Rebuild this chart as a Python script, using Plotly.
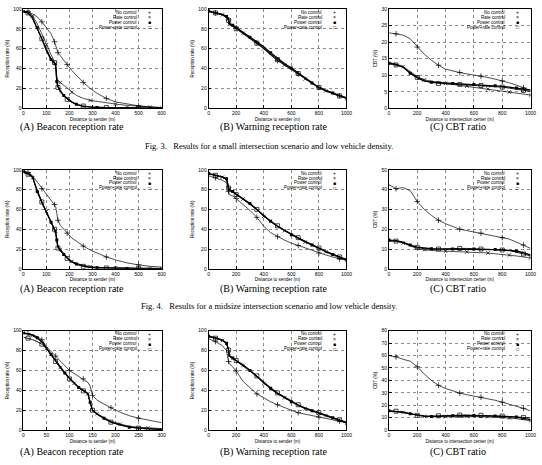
import plotly.graph_objects as go

# ------------------------------------------------------------------ data
series_names = ["No control", "Rate control", "Power control", "Power+rate control"]
legend_symbols = ["+", "×", "■", "□"]

# Fig. 3 (A) beacon reception rate
f3a_x = [0, 20, 40, 60, 80, 100, 120, 135, 140, 145, 150, 160, 175, 190, 210, 230, 260, 290, 320, 360, 400, 450, 500, 550, 600]
f3a_no = [97.5, 97, 95, 92, 87, 81, 75, 67, 63, 60, 56, 53, 48, 44, 38, 33, 26, 20, 15, 10, 6.5, 4.5, 2.5, 1.5, 0.8]
f3a_rate = [97.5, 97, 93, 85, 75, 64, 54, 47, 45, 32, 28, 26, 23, 20, 16, 13, 10, 8, 7, 5.5, 4.3, 3, 2, 1.2, 0.6]
f3a_power = [97.5, 96, 91, 81, 70, 58, 49, 45, 43, 27, 22, 18, 13, 10, 6.5, 4, 2, 1.2, 0.8, 0.5, 0.4, 0.3, 0.2, 0.1, 0.1]
f3a_pr = [97, 96, 90, 80, 70, 59, 50, 46, 44, 26, 21, 16, 12, 9, 6, 4, 2.3, 1.3, 1, 0.8, 0.6, 0.4, 0.3, 0.2, 0.2]

# Fig. 3 (B) warning reception rate
f3b_x = [0, 50, 100, 130, 145, 150, 175, 200, 250, 300, 350, 400, 450, 500, 550, 600, 650, 700, 750, 800, 850, 900, 950, 1000]
f3b_no = [97.5, 96, 94, 92, 89, 85, 83.5, 81, 76, 71, 66, 60, 54, 48, 44, 39.5, 34.5, 30, 25.5, 21, 18, 15, 12.5, 10.5]
f3b_rate = [97.5, 96, 94, 91.5, 88, 84.5, 83, 80.5, 75.5, 70, 65, 60, 53.5, 48, 43.5, 39, 34, 29.5, 25, 20.5, 17.5, 14.5, 12, 10]
f3b_power = [98, 96.5, 94.5, 92.5, 89.5, 85.5, 83.5, 81.5, 76.5, 71.5, 67, 62, 56, 50, 45, 40.5, 35.5, 30.5, 25.5, 21, 18, 15.5, 13, 10.5]
f3b_pr = [97.5, 96, 94, 92, 88.5, 84, 82.5, 80, 75, 70.5, 65.5, 60.5, 54.5, 49, 44, 40, 35, 30, 25, 21, 17.5, 15, 12.5, 10]

# Fig. 3 (C) CBT ratio
f3c_x = [0, 50, 100, 150, 200, 250, 300, 350, 400, 450, 500, 550, 600, 650, 700, 750, 800, 850, 900, 950, 1000]
f3c_no = [22.8, 22.5, 22.1, 21, 18.5, 16.3, 14.5, 13, 11.8, 11.2, 10.8, 10.4, 10.1, 9.7, 9.3, 8.8, 8.3, 7.7, 7.0, 6.2, 5.4]
f3c_rate = [13.8, 13.4, 12.6, 11, 9.6, 8.6, 8.1, 7.8, 7.5, 7.2, 7.0, 6.7, 6.4, 6.1, 5.8, 5.5, 5.2, 4.9, 4.6, 4.3, 4.0]
f3c_power = [13.6, 13.2, 12.4, 10.6, 9.2, 8.3, 7.9, 7.7, 7.6, 7.5, 7.4, 7.3, 7.2, 7.1, 7.0, 6.8, 6.6, 6.4, 6.1, 5.8, 5.5]
f3c_pr = [13.5, 13.1, 12.5, 10.8, 9.3, 8.2, 7.8, 7.5, 7.4, 7.3, 7.2, 7.1, 7.0, 6.9, 6.8, 6.6, 6.4, 6.1, 5.8, 5.4, 5.1]

# Fig. 4 (A)
f4a_x = [0, 20, 40, 60, 80, 100, 120, 135, 140, 145, 150, 160, 175, 190, 210, 230, 260, 290, 320, 360, 400, 450, 500, 550, 600]
f4a_no = [98.5, 97, 94, 88, 81, 76, 70, 65, 63, 56, 49, 44, 40, 36, 31, 28, 23, 19, 16, 12, 9, 6, 4, 2.5, 1.8]
f4a_rate = [98, 96.5, 92, 79, 68, 58, 48, 41, 38, 30, 23, 19.5, 15, 11.5, 7.5, 5.5, 3.5, 2.2, 1.6, 1.2, 1, 0.8, 0.6, 0.5, 0.4]
f4a_power = [98.5, 97, 93, 78, 67, 57, 47, 40, 37, 29, 22, 19, 14.5, 11, 7, 5, 3, 1.5, 1, 0.6, 0.5, 0.4, 0.3, 0.2, 0.2]
f4a_pr = [97, 95.5, 92, 78.5, 67.5, 57, 47, 40, 37, 28, 21, 18, 14, 10.5, 7, 4.5, 2.5, 1.3, 1, 0.8, 0.6, 0.5, 0.4, 0.3, 0.3]

# Fig. 4 (B)
f4b_x = [0, 50, 100, 130, 145, 150, 175, 200, 250, 300, 350, 400, 450, 500, 550, 600, 650, 700, 750, 800, 850, 900, 950, 1000]
f4b_no = [94, 92, 89.5, 87, 78, 75, 73.5, 71, 65, 59, 52, 43, 36.5, 32.5, 29, 26, 23.5, 21, 18.5, 16, 14, 12, 10, 8.5]
f4b_rate = [96, 94.5, 92.5, 90.5, 82.5, 80.5, 78, 75, 70.5, 65.5, 59.5, 53, 47.5, 42.5, 38.5, 34, 30.5, 27, 23.5, 20, 17, 14, 11.5, 9]
f4b_power = [96.5, 95, 93, 91, 82, 80, 78, 75.5, 71, 66, 60, 53.5, 48, 43, 39, 34.5, 31, 27.5, 24, 20.5, 17.5, 14.5, 12, 9]
f4b_pr = [95.5, 94.5, 92.5, 90, 81.5, 79.5, 77.5, 75, 70.5, 65.5, 60, 53, 48, 43.5, 39, 35, 31.5, 28, 24.5, 21, 18, 15, 12, 9.5]

# Fig. 4 (C)
f4c_x = [0, 50, 100, 150, 200, 250, 300, 350, 400, 450, 500, 550, 600, 650, 700, 750, 800, 850, 900, 950, 1000]
f4c_no = [42.5, 40.5, 41, 39.5, 34, 30, 27, 24.5, 22.8, 21.2, 20, 19.3, 18.6, 18, 17.4, 16.6, 15.8, 15, 13.5, 12, 10.3]
f4c_rate = [14.2, 14, 13, 11.5, 10.2, 9.6, 9.2, 9, 8.9, 8.8, 8.7, 8.6, 8.5, 8.2, 8, 7.6, 7.3, 7, 6.5, 6, 5.5]
f4c_power = [14.5, 14.2, 13.5, 12, 11, 10.5, 10.2, 10, 10, 10, 10, 10, 10, 10, 9.8, 9.7, 9.5, 9.3, 9, 8, 7]
f4c_pr = [14, 14, 13.2, 11.8, 10.8, 10.2, 9.8, 10, 10.2, 10.2, 10.3, 10.3, 10.2, 10, 9.8, 9.8, 9.5, 9.3, 8.5, 7.5, 6.5]

# Fig. 5 (A)
f5a_x = [0, 10, 20, 30, 40, 50, 60, 70, 80, 90, 100, 110, 120, 130, 140, 145, 150, 160, 175, 190, 210, 230, 250, 270, 300]
f5a_no = [97.7, 97, 96, 94, 91, 84, 79, 74.5, 70, 65, 60, 57, 54, 51.5, 48, 44, 35, 30, 26, 22.5, 18, 14.5, 12, 10.2, 7.5]
f5a_rate = [97.5, 96.5, 95, 92.5, 88.5, 82, 75.5, 69, 63, 57, 52, 47, 43, 39.5, 36.5, 27, 20.5, 16.5, 12.5, 9, 6, 4, 3, 2.2, 1.5]
f5a_power = [97.7, 97, 95.5, 93, 89, 82.5, 76, 69.5, 63.5, 57.5, 52.5, 47.5, 43, 40, 37, 28, 20, 16, 12, 8, 5.5, 3, 2, 1.2, 0.7]
f5a_pr = [93.5, 92.5, 91, 89, 86.5, 82, 75, 69, 62.5, 56.5, 51.5, 47, 42.5, 39.5, 36.5, 27, 20, 16, 11.5, 8, 5, 3, 2, 1.2, 0.7]

# Fig. 5 (B)
f5b_x = [0, 50, 100, 130, 145, 150, 175, 200, 250, 300, 350, 400, 450, 500, 550, 600, 650, 700, 750, 800, 850, 900, 950, 1000]
f5b_no = [92, 89, 85, 80, 69, 67, 63.5, 59.5, 49, 43, 36.5, 32.5, 28.5, 25.5, 22.5, 20, 17.5, 16, 14.5, 13, 11.5, 10.5, 9, 7.5]
f5b_rate = [94, 92.5, 90, 87, 80.5, 74.5, 72, 69.5, 65, 59.5, 53.5, 47, 41.5, 36.5, 32.5, 28, 24.5, 21.5, 19, 16.5, 14.5, 12, 9.5, 7]
f5b_power = [94.5, 93, 90.5, 87.5, 81, 75, 72.5, 70, 65.5, 60, 54, 47.5, 42, 37, 33, 28.5, 25, 22, 19.5, 17, 15, 12.5, 10, 7.5]
f5b_pr = [94, 92.5, 90.5, 87.5, 80.5, 74.5, 72.5, 70, 66, 60.5, 54.5, 48, 42.5, 37.5, 33.5, 29, 25.5, 22.5, 20, 17.5, 15.5, 13, 10.5, 8]

# Fig. 5 (C)
f5c_x = [0, 50, 100, 150, 200, 250, 300, 350, 400, 450, 500, 550, 600, 650, 700, 750, 800, 850, 900, 950, 1000]
f5c_no = [60, 59, 57, 55.5, 51, 45, 40, 36, 33.5, 31.5, 29.8, 28.5, 27.5, 26.5, 25.5, 24, 22.5, 21, 19.5, 17.5, 15.5]
f5c_rate = [15.3, 15, 14.2, 13, 11.8, 11, 10.8, 10.8, 11, 11.2, 11.3, 11.3, 11.2, 11, 10.8, 10.5, 10.2, 9.8, 9.2, 8.4, 7.5]
f5c_power = [15.5, 15.3, 14.5, 13.2, 12, 11.3, 11, 11, 11.3, 11.5, 11.7, 11.8, 11.8, 11.7, 11.5, 11.3, 11, 10.8, 10.5, 9.5, 8.5]
f5c_pr = [15.5, 15.2, 14.4, 13, 11.9, 11.4, 11.2, 11.5, 11.9, 12, 12.1, 12.1, 12, 11.9, 11.7, 11.5, 11.3, 11, 10.6, 10.2, 9.8]

# axis settings per panel (range max, dtick)
beacon_titles = ("Distance to sender (m)", "Reception rate (%)")
cbt_titles = ("Distance to intersection center (m)", "CBT (%)")
captions = ["(A) Beacon reception rate", "(B) Warning reception rate", "(C) CBT ratio"]
fig_captions = ["Fig. 3.   Results for a small intersection scenario and low vehicle density.",
                "Fig. 4.   Results for a midsize intersection scenario and low vehicle density."]

panels = [
    dict(x=f3a_x, ys=[f3a_no, f3a_rate, f3a_power, f3a_pr], xr=600, xd=100, yr=100, yd=20, t=beacon_titles),
    dict(x=f3b_x, ys=[f3b_no, f3b_rate, f3b_power, f3b_pr], xr=1000, xd=200, yr=100, yd=20, t=beacon_titles),
    dict(x=f3c_x, ys=[f3c_no, f3c_rate, f3c_power, f3c_pr], xr=1000, xd=200, yr=30, yd=5, t=cbt_titles),
    dict(x=f4a_x, ys=[f4a_no, f4a_rate, f4a_power, f4a_pr], xr=600, xd=100, yr=100, yd=20, t=beacon_titles),
    dict(x=f4b_x, ys=[f4b_no, f4b_rate, f4b_power, f4b_pr], xr=1000, xd=200, yr=100, yd=20, t=beacon_titles),
    dict(x=f4c_x, ys=[f4c_no, f4c_rate, f4c_power, f4c_pr], xr=1000, xd=200, yr=50, yd=10, t=cbt_titles),
    dict(x=f5a_x, ys=[f5a_no, f5a_rate, f5a_power, f5a_pr], xr=300, xd=50, yr=100, yd=20, t=beacon_titles),
    dict(x=f5b_x, ys=[f5b_no, f5b_rate, f5b_power, f5b_pr], xr=1000, xd=200, yr=100, yd=20, t=beacon_titles),
    dict(x=f5c_x, ys=[f5c_no, f5c_rate, f5c_power, f5c_pr], xr=1000, xd=200, yr=80, yd=10, t=cbt_titles),
]

# ------------------------------------------------------------------ layout
W, H = 542, 465
cols_px = [(22.7, 162.7), (210.3, 350.0), (393.0, 536.5)]
rows_px = [(6.0, 106.7), (169.0, 269.3), (332.0, 432.7)]
caption_y = [126, 290, 455]
caption_x = [72, 277, 463]
figcap_y = [145, 307]

line_widths = [0.7, 0.7, 1.3, 0.9]
marker_styles = [
    dict(symbol="cross-thin", size=4, line=dict(color="black", width=0.7)),
    dict(symbol="x-thin", size=3.5, line=dict(color="black", width=0.7)),
    dict(symbol="square", size=3, color="black", line=dict(color="black", width=0)),
    dict(symbol="square-open", size=4, color="black", line=dict(color="black", width=0.7)),
]
marker_offsets = [1, 2, 0, 1]

fig = go.Figure()
layout = dict(width=W, height=H, margin=dict(l=0, r=0, t=0, b=0), autosize=False,
              paper_bgcolor="white", plot_bgcolor="white", showlegend=False)
annotations = []
font_sans = "Liberation Sans"
font_serif = "Liberation Serif"

for i, p in enumerate(panels):
    r, c = divmod(i, 3)
    xs = "" if i == 0 else str(i + 1)
    xa, ya = "x" + xs, "y" + xs
    x0, x1 = cols_px[c]
    y0, y1 = rows_px[r]
    for k, yv in enumerate(p["ys"]):
        fig.add_trace(go.Scatter(x=p["x"], y=yv, mode="lines", xaxis=xa, yaxis=ya,
                                 line=dict(color="black", width=line_widths[k]),
                                 name=series_names[k], hoverinfo="skip"))
        off = marker_offsets[k]
        fig.add_trace(go.Scatter(x=p["x"][off::3], y=yv[off::3], mode="markers",
                                 xaxis=xa, yaxis=ya, marker=marker_styles[k],
                                 name=series_names[k], hoverinfo="skip"))
    common = dict(showline=True, mirror=True, linecolor="black", linewidth=0.8,
                  ticks="inside", ticklen=3, tickwidth=0.6, tickcolor="black",
                  showgrid=True, gridcolor="#8c8c8c", griddash="dot", gridwidth=0.6,
                  zeroline=False, tickfont=dict(family=font_sans, size=5, color="black"))
    layout["xaxis" + xs] = dict(common, domain=[x0 / W, x1 / W], anchor=ya,
                                range=[0, p["xr"]], dtick=p["xd"], tick0=0,
                                title=dict(text=p["t"][0], standoff=2,
                                           font=dict(family=font_sans, size=4.5, color="black")))
    layout["yaxis" + xs] = dict(common, domain=[1 - y1 / H, 1 - y0 / H], anchor=xa,
                                range=[0, p["yr"]], dtick=p["yd"], tick0=0,
                                title=dict(text=p["t"][1], standoff=3,
                                           font=dict(family=font_sans, size=4.5, color="black")))
    # legend (text right-aligned, symbol on the right, as gnuplot key)
    for k in range(4):
        yy = 0.967 - 0.05 * k
        annotations.append(dict(xref=xa + " domain", yref=ya + " domain", x=0.835, y=yy,
                                text=series_names[k], showarrow=False, xanchor="right",
                                yanchor="middle", font=dict(family=font_sans, size=4.5, color="black")))
        annotations.append(dict(xref=xa + " domain", yref=ya + " domain", x=0.91, y=yy,
                                text=legend_symbols[k], showarrow=False, xanchor="center",
                                yanchor="middle", font=dict(family=font_sans, size=5, color="black")))
    # subfigure caption
    annotations.append(dict(xref="paper", yref="paper", x=caption_x[c] / W, y=1 - caption_y[r] / H,
                            text=captions[c], showarrow=False, xanchor="center", yanchor="middle",
                            font=dict(family=font_serif, size=10, color="black")))

for j, t in enumerate(fig_captions):
    annotations.append(dict(xref="paper", yref="paper", x=271 / W, y=1 - figcap_y[j] / H,
                            text=t, showarrow=False, xanchor="center", yanchor="middle",
                            font=dict(family=font_serif, size=8.5, color="black")))

layout["annotations"] = annotations
fig.update_layout(**layout)
fig.write_html("out.html")
